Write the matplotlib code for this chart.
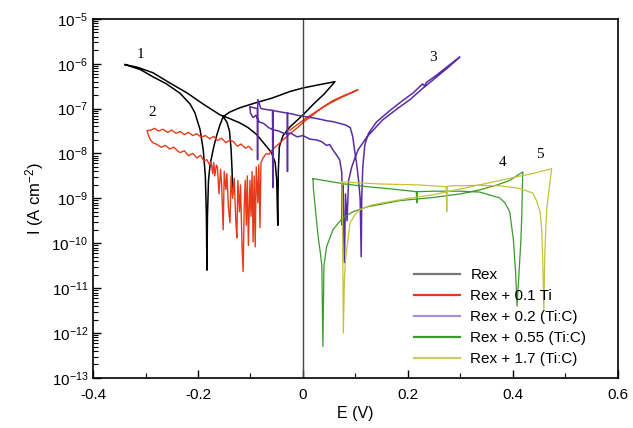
import numpy as np
import matplotlib
matplotlib.use("Agg")
import matplotlib.pyplot as plt
from matplotlib.lines import Line2D
from matplotlib.ticker import LogLocator, MultipleLocator

plt.rcParams['font.family'] = ['Liberation Sans', 'DejaVu Sans']
plt.rcParams['mathtext.fontset'] = 'custom'
plt.rcParams['mathtext.rm'] = 'Liberation Sans'
plt.rcParams['mathtext.it'] = 'Liberation Sans:italic'
plt.rcParams['mathtext.default'] = 'regular'

# potential E (V) and log10 of current density
# nan separates the loose branch of the Rex curve
rex_e = [-0.339, -0.31, -0.286, -0.26, -0.234, -0.215, -0.206, -0.196, -0.19, -0.186, -0.184, -0.183,
         -0.182, -0.180, -0.177, -0.17, -0.164, -0.158, -0.152, -0.14, -0.12, -0.09, -0.06, -0.025,
         0.0, 0.03, 0.061, 0.04, 0.02, 0.0, -0.012, -0.025, -0.038, -0.045, -0.047, -0.048, -0.050,
         -0.053, -0.06, -0.069, -0.088, -0.105, -0.12, -0.14, -0.158, -0.19, -0.221, -0.255, -0.286,
         -0.315, -0.339, np.nan, -0.152, -0.145, -0.14, -0.137, -0.135, -0.134]
rex_logi = [-6.02, -6.13, -6.29, -6.45, -6.66, -6.9, -7.09, -7.47, -7.92, -8.5, -9.4, -10.6,
            -9.4, -8.6, -8.25, -7.85, -7.58, -7.36, -7.18, -7.08, -6.98, -6.87, -6.77, -6.62,
            -6.54, -6.47, -6.40, -6.68, -6.9, -7.14, -7.27, -7.41, -7.6, -7.85, -8.4, -9.6, -8.6,
            -8.2, -7.98, -7.85, -7.58, -7.42, -7.32, -7.22, -7.14, -6.9, -6.65, -6.42, -6.20,
            -6.08, -6.02, np.nan, -7.18, -7.3, -7.5, -7.9, -8.4, -8.9]

ti_e = [-0.097, -0.103, -0.11, -0.118, -0.125, -0.132, -0.139, -0.147, -0.155, -0.163, -0.17, -0.178,
        -0.186, -0.194, -0.202, -0.21, -0.218, -0.226, -0.234, -0.242, -0.25, -0.258, -0.267,
        -0.275, -0.283, -0.29, -0.297, -0.295, -0.291, -0.286, -0.278, -0.27, -0.262, -0.254,
        -0.246, -0.238, -0.234, -0.226, -0.218, -0.21, -0.202, -0.195, -0.189, -0.183,
        -0.178, -0.175, -0.172, -0.170, -0.168, -0.165, -0.163, -0.16, -0.157, -0.155, -0.152,
        -0.150, -0.147, -0.145, -0.142, -0.139, -0.137, -0.134, -0.131, -0.128, -0.126, -0.124,
        -0.121, -0.119, -0.116, -0.114, -0.112, -0.110, -0.108, -0.106, -0.104, -0.101, -0.099,
        -0.097, -0.095, -0.093, -0.091, -0.089, -0.086, -0.084, -0.082, -0.080, -0.076, -0.07,
        -0.065, -0.057, -0.04, -0.025, -0.01, 0.0, 0.02, 0.04, 0.057, 0.08, 0.105,
        0.09, 0.07, 0.05, 0.03, 0.01, -0.01, -0.025]
ti_logi = [-7.92, -7.84, -7.88, -7.79, -7.84, -7.74, -7.7, -7.76, -7.66, -7.71, -7.62, -7.67,
           -7.6, -7.64, -7.56, -7.6, -7.53, -7.58, -7.51, -7.55, -7.48, -7.53, -7.46,
           -7.5, -7.44, -7.48, -7.49, -7.58, -7.69, -7.76, -7.8, -7.86, -7.82, -7.9,
           -7.86, -7.95, -7.98, -7.94, -8.05, -8.0, -8.1, -8.04, -8.16, -8.14,
           -8.25, -8.18, -8.45, -8.2, -8.5, -8.26, -8.3, -8.9, -8.35, -8.7, -9.7,
           -8.4, -8.8, -8.45, -9.2, -9.54, -8.5, -9.0, -8.55, -9.5, -9.88, -8.6,
           -9.3, -8.7, -10.1, -10.63, -9.2, -8.6, -9.6, -8.5, -10.05, -8.6, -9.4,
           -8.4, -9.97, -8.5, -10.08, -8.3, -9.1, -8.25, -9.65, -8.2, -8.1, -8.0,
           -8.02, -7.9, -7.72, -7.56, -7.42, -7.31, -7.13, -6.95, -6.82, -6.7, -6.58,
           -6.66, -6.77, -6.89, -7.03, -7.18, -7.35, -7.48]

tic02_e = [-0.101, -0.10, -0.095, -0.09, -0.083, -0.075, -0.066, -0.057, -0.046, -0.035, -0.023,
           -0.011, 0.0, 0.013, 0.027, 0.036, 0.045, 0.051, 0.057, 0.062, 0.065, 0.07, 0.074,
           0.075, 0.076, 0.079, 0.081, 0.084, 0.087, 0.093, 0.099, 0.105, 0.122, 0.152, 0.18,
           0.204, 0.225, 0.248, 0.275, 0.299, 0.28, 0.255, 0.235, 0.232, 0.228, 0.21, 0.19,
           0.165, 0.14, 0.125, 0.118, 0.114, 0.112, 0.111, 0.109, 0.106, 0.102, 0.098, 0.095,
           0.09, 0.08, 0.07, 0.057, 0.045, 0.03, 0.015, 0.0, -0.01, -0.02, -0.029, -0.0295,
           -0.03, -0.04, -0.05, -0.057, -0.0575, -0.058, -0.07, -0.08, -0.086, -0.0865, -0.087,
           -0.094, -0.101]
tic02_logi = [-6.98, -7.1, -7.2, -7.15, -7.3, -7.33, -7.42, -7.47, -7.5, -7.56, -7.55,
              -7.63, -7.6, -7.68, -7.7, -7.74, -7.82, -7.8, -7.92, -8.0, -8.05, -8.14, -8.43,
              -9.6, -8.7, -10.43, -8.9, -9.5, -8.6, -8.3, -8.1, -7.92, -7.63, -7.25, -7.0,
              -6.8, -6.58, -6.36, -6.1, -5.85, -6.02, -6.25, -6.42, -6.5, -6.45, -6.65, -6.82,
              -7.05, -7.3, -7.55, -7.8, -8.3, -9.0, -10.3, -9.0, -8.6, -8.2, -7.9, -7.63,
              -7.42, -7.36, -7.33, -7.29, -7.27, -7.23, -7.2, -7.17, -7.15, -7.12, -7.1, -8.4,
              -7.1, -7.08, -7.06, -7.04, -8.76, -7.04, -7.02, -7.0, -6.8, -8.14, -7.0,
              -6.98, -6.96]

tic055_e = [0.019, 0.02, 0.022, 0.025, 0.029, 0.033, 0.036, 0.038, 0.040, 0.045, 0.057, 0.076,
            0.095, 0.122, 0.185, 0.248, 0.3, 0.337, 0.37, 0.394, 0.419, 0.418, 0.417, 0.415,
            0.411, 0.408, 0.405, 0.401, 0.394, 0.385, 0.375, 0.337, 0.3, 0.25, 0.218, 0.217,
            0.216, 0.16, 0.122, 0.08, 0.05, 0.019]
tic055_logi = [-8.56, -8.8, -9.03, -9.4, -9.86, -10.2, -10.5, -12.3, -10.5, -10.08, -9.7, -9.43,
               -9.3, -9.19, -9.05, -8.98, -8.9, -8.81, -8.7, -8.6, -8.41, -8.8, -9.4, -10.0,
               -10.8, -11.4, -10.6, -9.92, -9.3, -9.1, -8.99, -8.86, -8.84, -8.84, -8.85, -9.1,
               -8.85, -8.78, -8.74, -8.68, -8.62, -8.56]

tic17_e = [0.074, 0.075, 0.0755, 0.076, 0.077, 0.079, 0.081, 0.084, 0.087, 0.09, 0.1, 0.109,
           0.13, 0.152, 0.2, 0.248, 0.312, 0.36, 0.407, 0.44, 0.474, 0.47, 0.467, 0.465, 0.463,
           0.461, 0.459, 0.457, 0.455, 0.452, 0.445, 0.438, 0.41, 0.375, 0.33, 0.285, 0.275,
           0.274, 0.273, 0.22, 0.15, 0.1, 0.074]
tic17_logi = [-8.63, -9.0, -9.6, -10.5, -12.0, -10.8, -10.4, -10.08, -9.8, -9.54, -9.35, -9.25,
              -9.15, -9.1, -9.0, -8.92, -8.76, -8.64, -8.52, -8.44, -8.34, -8.7, -9.0, -9.19, -9.6,
              -10.2, -11.48, -10.4, -9.7, -9.3, -9.05, -8.88, -8.77, -8.72, -8.71, -8.72, -8.73,
              -9.3, -8.74, -8.7, -8.68, -8.65, -8.63]

labels = ["Rex", "Rex + 0.1 Ti", "Rex + 0.2 (Ti:C)", "Rex + 0.55 (Ti:C)", "Rex + 1.7 (Ti:C)"]
colors = ["#000000", "#e63a1a", "#5a2ca6", "#3b9a2c", "#c3c23a"]
legend_colors = ["#777777", "#e63a1a", "#a592d2", "#3b9a2c", "#cccc66"]
curve_numbers = ["1", "2", "3", "4", "5"]
number_e = [-0.31, -0.288, 0.248, 0.381, 0.451]
number_logi = [-5.8, -7.09, -5.87, -8.2, -8.03]

fig = plt.figure(figsize=(6.33, 4.28), dpi=100)
ax = fig.add_axes([0.147, 0.117, 0.829, 0.839])

series = [(rex_e, rex_logi), (ti_e, ti_logi), (tic02_e, tic02_logi),
          (tic055_e, tic055_logi), (tic17_e, tic17_logi)]
widths = [1.1, 1.0, 1.1, 0.9, 0.9]
for (e, li), c, w in zip(series, colors, widths):
    ax.plot(e, 10.0 ** np.array(li), color=c, lw=w)

ax.axvline(0, color="#444444", lw=1.0)

ax.set_yscale("log")
ax.set_xlim(-0.4, 0.6)
ax.set_ylim(1e-13, 1e-5)

ax.xaxis.set_minor_locator(MultipleLocator(0.1))
ax.yaxis.set_major_locator(LogLocator(base=10, numticks=20))
ax.yaxis.set_minor_locator(LogLocator(base=10, subs=np.arange(2, 10), numticks=20))
ax.set_xticks([-0.4, -0.2, 0, 0.2, 0.4, 0.6])
ax.set_xticklabels(["-0.4", "-0.2", "0", "0.2", "0.4", "0.6"])
ax.tick_params(which="both", direction="in", top=False, right=False, labelsize=11)
ax.tick_params(which="major", length=6, width=1)
ax.tick_params(axis="x", which="major", pad=7)
ax.tick_params(which="minor", length=3.5, width=0.8)
for s in ax.spines.values():
    s.set_linewidth(1.2)

ax.set_xlabel("E (V)", fontsize=11.5, labelpad=3)
ax.set_ylabel("I (A cm$^{-2}$)", fontsize=12, labelpad=4)

for t, x, y in zip(curve_numbers, number_e, number_logi):
    ax.text(x, 10.0 ** y, t, fontsize=11, family="Liberation Serif", ha="center", va="center")

handles = [Line2D([], [], color=c, lw=1.6) for c in legend_colors]
ax.legend(handles, labels, loc="lower left", bbox_to_anchor=(0.585, -0.005), frameon=False,
          fontsize=11, handlelength=3.0, handletextpad=0.7, labelspacing=0.45)

fig.savefig("out.png", dpi=100)
